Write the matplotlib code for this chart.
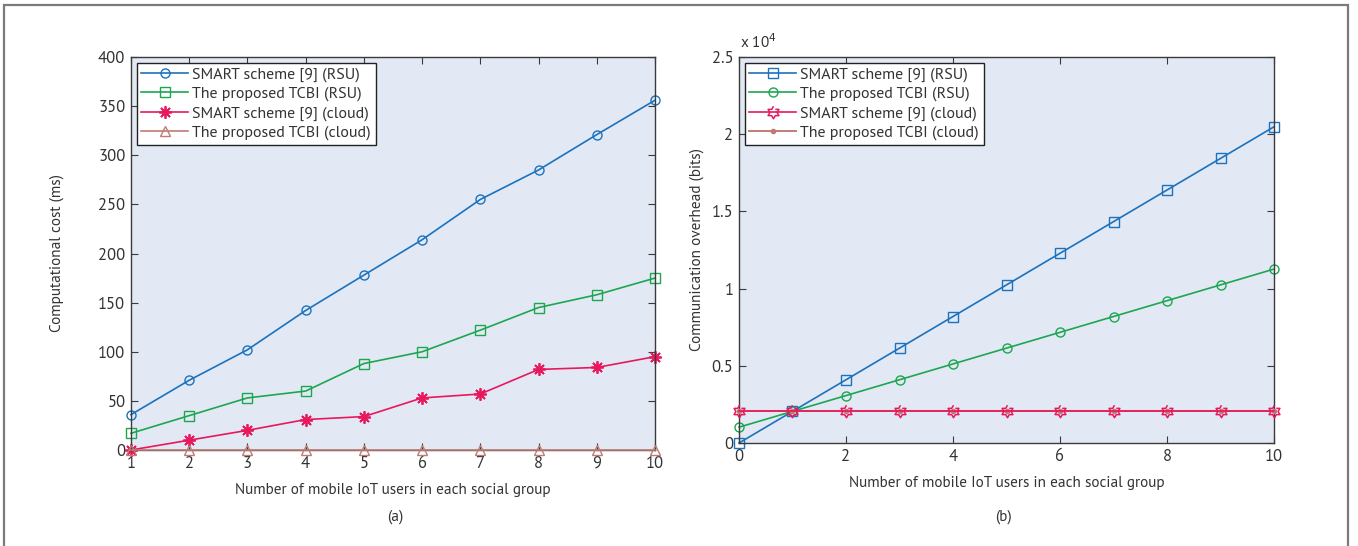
import numpy as np
import matplotlib
matplotlib.use("Agg")
import matplotlib.pyplot as plt
from matplotlib.patches import Rectangle
from matplotlib import font_manager

FAM = 'Roboto'
ents = font_manager.fontManager.ttflist
for cand in ['Source Sans Pro', 'Source Sans 3', 'PT Sans', 'Fira Sans', 'Roboto Condensed']:
    hits = [f for f in ents if f.name == cand and f.style == 'normal'
            and '[' not in f.fname and f.weight in (400, 'normal', 'regular')]
    if hits:
        FAM = cand
        break
plt.rcParams['font.family'] = [FAM, 'DejaVu Sans']

# ---------------- data ----------------
users_a = [1, 2, 3, 4, 5, 6, 7, 8, 9, 10]
smart_rsu_a = [36, 71, 102, 142, 178, 214, 255, 285, 321, 356]
tcbi_rsu_a = [17, 35, 53, 60, 88, 100, 122, 145, 158, 175]
smart_cloud_a = [0, 10, 20, 31, 34, 53, 57, 82, 84, 95]
tcbi_cloud_a = [0, 0, 0, 0, 0, 0, 0, 0, 0, 0]

users_b = [0, 1, 2, 3, 4, 5, 6, 7, 8, 9, 10]
smart_rsu_b = [0, 2048, 4096, 6144, 8192, 10240, 12288, 14336, 16384, 18432, 20480]
tcbi_rsu_b = [1024, 2048, 3072, 4096, 5120, 6144, 7168, 8192, 9216, 10240, 11264]
smart_cloud_b = [2048] * 11
tcbi_cloud_b = [2048] * 11

labels_a = ['SMART scheme [9] (RSU)', 'The proposed TCBI (RSU)',
            'SMART scheme [9] (cloud)', 'The proposed TCBI (cloud)']
labels_b = ['SMART scheme [9] (RSU)', 'The proposed TCBI (RSU)',
            'SMART scheme [9] (cloud)', 'The proposed TCBI (cloud)']
yticks_a = [0, 50, 100, 150, 200, 250, 300, 350, 400]
xticks_a = [1, 2, 3, 4, 5, 6, 7, 8, 9, 10]
yticks_b = [0, 5000, 10000, 15000, 20000, 25000]
yticklabels_b = ['0', '0.5', '1', '1.5', '2', '2.5']
xticks_b = [0, 2, 4, 6, 8, 10]

# ---------------- style ----------------
BLUE = '#1B72BE'
GREEN = '#1DA650'
PINK = '#E8185C'
BROWN = '#BF7C75'
BG = '#E2E9F4'
SPINE = '#3a3a3a'
TXT = '#333333'
FS = 11.0
TFS = 12.0

# six-pointed star marker
ang = np.deg2rad(np.arange(12) * 30 + 90)
rad = np.where(np.arange(12) % 2 == 0, 1.0, 0.577)
hexagram = list(zip(rad * np.cos(ang), rad * np.sin(ang)))

W, H = 1358, 546
fig = plt.figure(figsize=(W / 100, H / 100), dpi=100)

# outer frame
fig.add_artist(Rectangle((4 / W, -0.05), 1344 / W, 1.05 - 5 / H,
                         transform=fig.transFigure, fill=False,
                         edgecolor='#7a7a7a', linewidth=1.6))

def fbox(l, t, r, b):
    return [l / W, 1 - b / H, (r - l) / W, (b - t) / H]

def style_ax(ax):
    ax.set_facecolor(BG)
    for s in ax.spines.values():
        s.set_color(SPINE)
        s.set_linewidth(1.0)
    ax.tick_params(direction='in', top=True, right=True, length=5,
                   color=SPINE, labelsize=TFS, labelcolor=TXT, pad=4)

def style_leg(leg):
    leg.get_frame().set_linewidth(1.0)
    for t in leg.get_texts():
        t.set_color(TXT)

legkw = dict(loc='upper left', fontsize=11.5, frameon=True, fancybox=False,
             edgecolor='#222222', framealpha=1, borderpad=0.3, labelspacing=0.3,
             handlelength=2.9, handletextpad=0.3, borderaxespad=0.35)

# ---------------- panel (a) ----------------
ax1 = fig.add_axes(fbox(131, 57, 655, 450))
style_ax(ax1)
kw = dict(markerfacecolor='none', markersize=6.5, linewidth=1.2, clip_on=False)
ax1.plot(users_a, smart_rsu_a, '-o', color=BLUE, markeredgecolor=BLUE, label=labels_a[0], **kw)
ax1.plot(users_a, tcbi_rsu_a, '-s', color=GREEN, markeredgecolor=GREEN, label=labels_a[1], **kw)
ax1.plot(users_a, smart_cloud_a, '-', marker=(8, 2, 0), color=PINK, markeredgecolor=PINK,
         label=labels_a[2], markersize=9, markeredgewidth=1.3, linewidth=1.2, clip_on=False)
ax1.plot(users_a, tcbi_cloud_a, '-^', color=BROWN, markeredgecolor=BROWN, label=labels_a[3],
         markerfacecolor='none', markersize=7, linewidth=1.2, clip_on=False, zorder=3)
ax1.set_xlim(1, 10)
ax1.set_ylim(0, 400)
ax1.set_xticks(xticks_a)
ax1.set_yticks(yticks_a)
ax1.set_ylabel('Computational cost (ms)', fontsize=FS, color=TXT)
ax1.yaxis.set_label_coords(-0.128, 0.5)
ax1.set_xlabel('Number of mobile IoT users in each social group', fontsize=FS, color=TXT, labelpad=8)
style_leg(ax1.legend(**legkw))
fig.text(395 / W, 1 - 517 / H, '(a)', ha='center', va='center', fontsize=FS, color=TXT)

# ---------------- panel (b) ----------------
ax2 = fig.add_axes(fbox(739, 57, 1274, 443))
style_ax(ax2)
ax2.plot(users_b, smart_rsu_b, '-s', color=BLUE, markeredgecolor=BLUE, label=labels_b[0], **kw)
ax2.plot(users_b, tcbi_rsu_b, '-o', color=GREEN, markeredgecolor=GREEN, label=labels_b[1], **kw)
ax2.plot(users_b, smart_cloud_b, '-', marker=hexagram, color=PINK, markeredgecolor=PINK,
         markerfacecolor='none', markersize=9, markeredgewidth=1.1, linewidth=1.2,
         clip_on=False, label=labels_b[2], zorder=4)
ax2.plot(users_b, tcbi_cloud_b, '-o', color=BROWN, markeredgecolor=BROWN, markerfacecolor=BROWN,
         markersize=3, linewidth=1.4, clip_on=False, label=labels_b[3], zorder=3)
ax2.set_xlim(0, 10)
ax2.set_ylim(0, 25000)
ax2.set_xticks(xticks_b)
ax2.set_yticks(yticks_b)
ax2.set_yticklabels(yticklabels_b)
ax2.set_ylabel('Communication overhead (bits)', fontsize=FS, color=TXT)
ax2.yaxis.set_label_coords(-0.065, 0.5)
ax2.set_xlabel('Number of mobile IoT users in each social group', fontsize=FS, color=TXT, labelpad=8)
style_leg(ax2.legend(**legkw))
fig.text(740 / W, 1 - 42 / H, r'x 10$^{4}$', ha='left', va='center', fontsize=FS, color=TXT)
fig.text(1003 / W, 1 - 517 / H, '(b)', ha='center', va='center', fontsize=FS, color=TXT)

fig.savefig('out.png', dpi=100)
